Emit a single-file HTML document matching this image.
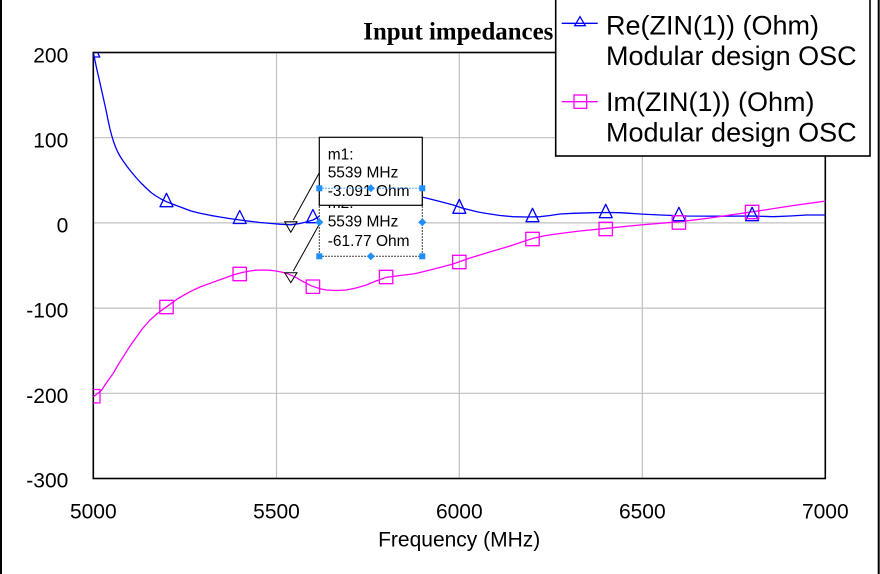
<!DOCTYPE html>
<html><head><meta charset="utf-8"><style>
html,body{margin:0;padding:0;background:#fff;}
svg{display:block;}
text{font-family:"Liberation Sans",Arial,sans-serif;}
</style></head><body>
<svg width="880" height="574" viewBox="0 0 880 574" xmlns="http://www.w3.org/2000/svg">
<defs><clipPath id="pc"><rect x="93.3" y="52.5" width="732" height="426"/></clipPath></defs>
<rect width="880" height="574" fill="#fff"/>
<!-- grid -->
<g stroke="#c0c0c0" stroke-width="1.2">
<line x1="276.5" y1="52.5" x2="276.5" y2="478.5"/>
<line x1="459.3" y1="52.5" x2="459.3" y2="478.5"/>
<line x1="642.3" y1="52.5" x2="642.3" y2="478.5"/>
<line x1="93.3" y1="137.7" x2="825.3" y2="137.7"/>
<line x1="93.3" y1="222.9" x2="825.3" y2="222.9"/>
<line x1="93.3" y1="308.1" x2="825.3" y2="308.1"/>
<line x1="93.3" y1="393.3" x2="825.3" y2="393.3"/>
</g>
<rect x="93.3" y="52.5" width="732" height="426" fill="none" stroke="#000" stroke-width="1.6"/>
<g clip-path="url(#pc)" fill="none" stroke-width="1.3" stroke-linejoin="round">
<polyline stroke="#0000ff" points="93.3,52.5 94.3,57 95.5,63 97,70 98.5,76.5 100,83 102,92 104,101 106,110 108,120 110,129 111.7,135.5 113.5,141.5 115.5,147 118,152.5 120.5,157 123.5,161.5 126.7,166 131,171.5 136,177.5 141,183 146.7,188.5 151,192.5 156,196 161,199 166.7,201.8 175,205 183,208 191,211 200,213.3 210,215.3 220,217 230,218.6 240,220 250,221.3 260,222.5 270,223.4 280,224.2 290.6,224.8 300,223.5 306,222 313,220 320,216 330,211 350,203 371,195 395,193 423,197.3 430,199 440,201.5 453.3,205 462,208 470,210 478,212 486.7,213.5 500,215.5 513,216.7 527,217 540,216.7 550,215.5 560,214 573,213.3 590,212.8 605,212.5 620,212.7 630,213.3 640,214 660,215 686.7,216 720,216.2 753.3,216 773,216.7 790,216 806.7,215 826,215"/>
<polyline stroke="#ff00ff" points="93.3,396.7 97,394 101.7,390 107,382 113.3,373.3 118,365 123.3,356.7 130,346 136.7,336.7 143,328 150,320 158,313 166.7,306.7 178,298.5 190,291.7 200,287 210,283.3 222,279 233,275 242,272.5 250,271 256,270.2 263,270 270,270.3 276,271 281,272 286.3,273.3 291,275.2 296,277.5 301,280.4 306.3,283.3 311,285.7 316,287.5 321,289 326.3,290 336,290.5 346.3,290 356,288 366.3,285 376,281 386.3,277.3 400,275.5 413,274 420,272.5 436,268.5 453,264 470,258 493,251 510,246 522,242 533.3,238.3 546,235.5 560,233.5 580,231 606.7,228.3 640,225 680,221.7 710,218 730,215 753.3,211.7 790,206 826,201"/>
<!-- Re markers -->
<g stroke="#0000ff" stroke-width="1.3">
<polygon points="93.3,44 99.8,57 86.8,57"/>
<polygon points="166.5,193.3 173,206.7 160,206.7"/>
<polygon points="239.7,210.5 246.2,223.5 233.2,223.5"/>
<polygon points="312.9,209.5 319.4,222.7 306.4,222.7"/>
<polygon points="459.3,199.3 465.8,213.3 452.8,213.3"/>
<polygon points="532.5,208.3 539,221.7 526,221.7"/>
<polygon points="605.7,204.3 612.2,217.7 599.2,217.7"/>
<polygon points="678.9,207.3 685.4,220.7 672.4,220.7"/>
<polygon points="752.1,207.3 758.6,220.7 745.6,220.7"/>
</g>
<!-- Im markers -->
<g stroke="#ff00ff" stroke-width="1.3">
<rect x="86.6" y="389.5" width="13.4" height="13.4"/>
<rect x="159.8" y="300.3" width="13.4" height="13.4"/>
<rect x="233" y="267.3" width="13.4" height="13.4"/>
<rect x="306.2" y="280" width="13.4" height="13.4"/>
<rect x="379.4" y="270.3" width="13.4" height="13.4"/>
<rect x="452.6" y="255.3" width="13.4" height="13.4"/>
<rect x="525.8" y="232.3" width="13.4" height="13.4"/>
<rect x="599" y="222.3" width="13.4" height="13.4"/>
<rect x="672.2" y="215.8" width="13.4" height="13.4"/>
<rect x="745.4" y="205.3" width="13.4" height="13.4"/>
</g>
</g>
<!-- marker triangles and leaders -->
<g stroke="#000" stroke-width="1" fill="none">
<polygon points="284.7,221.7 297,221.7 290.8,232.3"/>
<polygon points="284.7,272.7 297,272.7 290.8,282.7"/>
<line x1="293.3" y1="220" x2="319.3" y2="172.7"/>
<line x1="293.3" y1="271" x2="319.3" y2="224.3"/>
</g>
<!-- m2 box -->
<rect x="319.3" y="188.3" width="103" height="68" fill="#fff"/>
<g font-size="15.5" fill="#000">
<text x="327.7" y="208">m2:</text>
<text x="327.7" y="226.7">5539 MHz</text>
<text x="327.7" y="246">-61.77 Ohm</text>
</g>
<!-- m1 box -->
<rect x="319.3" y="137.3" width="103" height="68" fill="#fff" stroke="#000" stroke-width="1.2"/>
<g font-size="15.5" fill="#000">
<text x="327.7" y="159.3">m1:</text>
<text x="327.7" y="177.7">5539 MHz</text>
<text x="327.7" y="196">-3.091 Ohm</text>
</g>
<!-- m2 selection -->
<g fill="none" stroke-width="1" stroke-dasharray="1.5,1.5">
<line x1="319.3" y1="188.3" x2="422.3" y2="188.3" stroke="#1e8fff"/>
<line x1="319.3" y1="188.3" x2="319.3" y2="256.3" stroke="#000"/>
<line x1="422.3" y1="188.3" x2="422.3" y2="256.3" stroke="#000"/>
<line x1="319.3" y1="256.3" x2="422.3" y2="256.3" stroke="#000"/>
</g>
<g fill="#1e8fff">
<rect x="316.3" y="185.3" width="6" height="6"/>
<rect x="419.3" y="185.3" width="6" height="6"/>
<rect x="316.3" y="253.3" width="6" height="6"/>
<rect x="419.3" y="253.3" width="6" height="6"/>
<polygon points="370.8,184.3 374.8,188.3 370.8,192.3 366.8,188.3"/>
<polygon points="370.8,252.3 374.8,256.3 370.8,260.3 366.8,256.3"/>
<polygon points="319.3,218.3 323.3,222.3 319.3,226.3 315.3,222.3"/>
<polygon points="422.3,218.3 426.3,222.3 422.3,226.3 418.3,222.3"/>
</g>
<!-- title -->
<text x="363.3" y="39.3" font-weight="bold" font-size="25" textLength="190" lengthAdjust="spacingAndGlyphs" style="font-family:'Liberation Serif',serif">Input impedances</text>
<!-- legend -->
<rect x="555.7" y="-3" width="314.3" height="159" fill="#fff" stroke="#000" stroke-width="1.6"/>
<line x1="561.7" y1="23.3" x2="597.7" y2="23.3" stroke="#0000ff" stroke-width="1.3"/>
<polygon points="580,16.7 585.3,25.7 574.7,25.7" fill="none" stroke="#0000ff" stroke-width="1.3"/>
<line x1="561.7" y1="101.7" x2="597.7" y2="101.7" stroke="#ff00ff" stroke-width="1.3"/>
<rect x="574" y="95" width="12.7" height="13.3" fill="none" stroke="#ff00ff" stroke-width="1.3"/>
<g font-size="27" fill="#000">
<text x="606" y="34.3">Re(ZIN(1)) (Ohm)</text>
<text x="606" y="65">Modular design OSC</text>
<text x="606" y="111">Im(ZIN(1)) (Ohm)</text>
<text x="606" y="141.7">Modular design OSC</text>
</g>
<!-- axis labels -->
<g font-size="21" fill="#000" text-anchor="end">
<text x="68.3" y="62.3">200</text>
<text x="68.3" y="147.4">100</text>
<text x="68.3" y="232.4">0</text>
<text x="68.3" y="317.6">-100</text>
<text x="68.3" y="402.8">-200</text>
<text x="68.3" y="487.6">-300</text>
</g>
<g font-size="21" fill="#000" text-anchor="middle">
<text x="93.3" y="518.3">5000</text>
<text x="276.5" y="518.3">5500</text>
<text x="459.3" y="518.3">6000</text>
<text x="642.3" y="518.3">6500</text>
<text x="825.3" y="518.3">7000</text>
<text x="459.2" y="546.7">Frequency (MHz)</text>
</g>
<!-- frame lines -->
<rect x="0" y="0" width="2" height="574" fill="#000"/>
<rect x="877.7" y="0" width="2" height="574" fill="#000"/>
</svg>
</body></html>
